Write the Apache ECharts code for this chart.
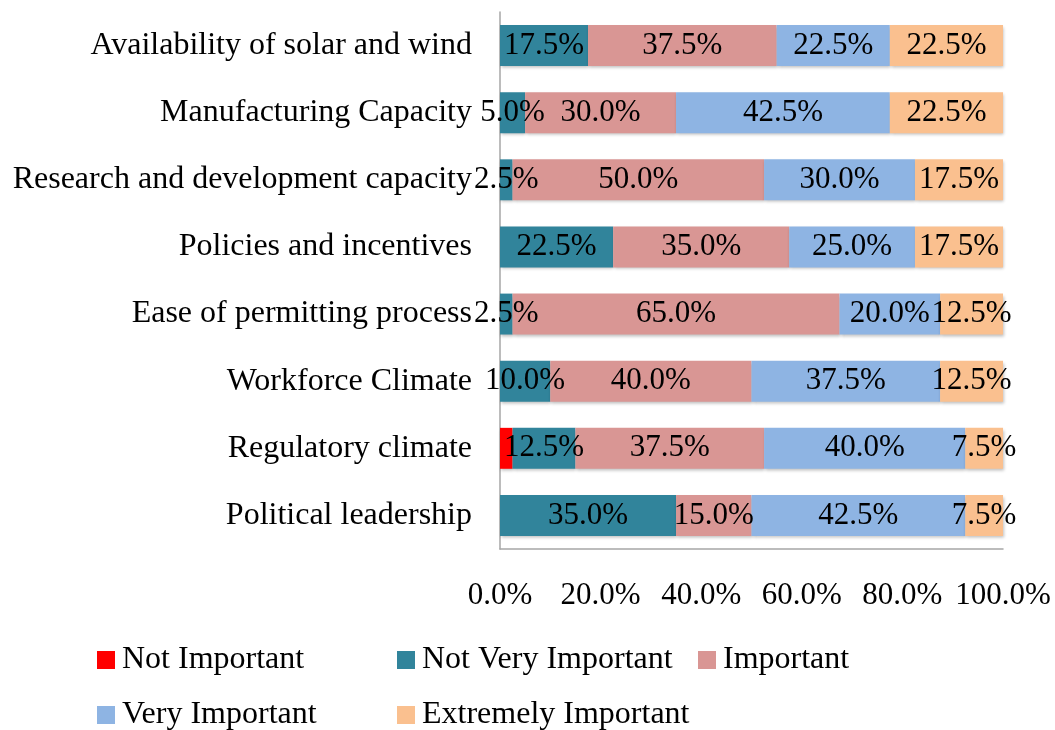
<!DOCTYPE html>
<html>
<head>
<meta charset="utf-8">
<script src="https://cdn.jsdelivr.net/npm/echarts@6/dist/echarts.min.js"></script>
<style>
  html, body { margin: 0; padding: 0; background: #fff; }
  #chart { width: 1055px; height: 730px; }
</style>
</head>
<body>
<div id="chart"></div>
<script>
const categories = [
  "Availability of solar and wind",
  "Manufacturing Capacity",
  "Research and development capacity",
  "Policies and incentives",
  "Ease of permitting process",
  "Workforce Climate",
  "Regulatory climate",
  "Political leadership"
];
const seriesNames = ["Not Important", "Not Very Important", "Important", "Very Important", "Extremely Important"];
const notImportant      = [0, 0, 0, 0, 0, 0, 2.5, 0];
const notVeryImportant  = [17.5, 5.0, 2.5, 22.5, 2.5, 10.0, 12.5, 35.0];
const important         = [37.5, 30.0, 50.0, 35.0, 65.0, 40.0, 37.5, 15.0];
const veryImportant     = [22.5, 42.5, 30.0, 25.0, 20.0, 37.5, 40.0, 42.5];
const extremelyImportant = [22.5, 22.5, 17.5, 17.5, 12.5, 12.5, 7.5, 7.5];
const xTicks = [0, 20, 40, 60, 80, 100];

const colors = ["#ff0000", "#31849b", "#d99694", "#8eb4e3", "#fac08f"];
const FONT = "'Liberation Serif', 'DejaVu Serif', serif";
const values = [notImportant, notVeryImportant, important, veryImportant, extremelyImportant];

const chart = echarts.init(document.getElementById("chart"));

const series = seriesNames.map((name, i) => ({
  name: name,
  type: "bar",
  stack: "total",
  data: values[i],
  barCategoryGap: "39%",
  itemStyle: {
    color: colors[i],
    shadowColor: "rgba(0,0,0,0.25)",
    shadowBlur: 3,
    shadowOffsetX: 1,
    shadowOffsetY: 2
  },
  label: {
    show: i > 0,
    position: "inside",
    color: "#000",
    fontFamily: FONT,
    fontSize: 31,
    formatter: (p) => (p.value > 0 ? p.value.toFixed(1) + "%" : "")
  }
}));

// legend placed as a grid: three columns, two rows
const legendPos = [
  [97, 644], [397, 644], [698, 644],
  [97, 699], [397, 699]
];
const legends = seriesNames.map((name, i) => ({
  data: [name],
  left: legendPos[i][0],
  top: legendPos[i][1],
  itemWidth: 18,
  itemHeight: 18,
  itemGap: 0,
  padding: 0,
  icon: "rect",
  textStyle: { fontFamily: FONT, fontSize: 32, color: "#000", padding: [0, 0, 0, 2] },
  selectedMode: false
}));

const option = {
  animation: false,
  grid: { left: 500, right: 52, top: 12, bottom: 181, containLabel: false },
  legend: legends,
  xAxis: {
    type: "value",
    min: 0,
    max: 100,
    interval: 20,
    axisLine: { show: true, lineStyle: { color: "#a6a6a6", width: 1.5 } },
    axisTick: { show: false },
    splitLine: { show: false },
    axisLabel: {
      fontFamily: FONT,
      fontSize: 31,
      color: "#000",
      margin: 31,
      formatter: (v) => (xTicks.includes(v) ? v.toFixed(1) + "%" : "")
    }
  },
  yAxis: {
    type: "category",
    data: categories,
    inverse: true,
    axisLine: { show: true, lineStyle: { color: "#a6a6a6", width: 1.5 } },
    axisTick: { show: false },
    axisLabel: {
      fontFamily: FONT,
      fontSize: 32,
      color: "#000",
      margin: 28
    }
  },
  series: series
};

chart.setOption(option);
</script>
</body>
</html>
